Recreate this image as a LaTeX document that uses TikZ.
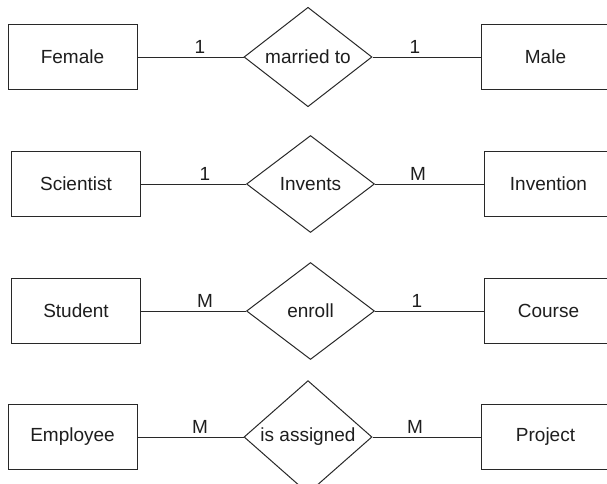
\documentclass[tikz,border=0pt]{standalone}
\usepackage{fontspec}
\setmainfont{Liberation Sans}
\usepackage{tikz}
\usetikzlibrary{math,shapes.geometric}
\definecolor{erline}{RGB}{40,40,40}
\definecolor{ertext}{RGB}{30,30,30}
\tikzset{
  entity/.style={draw=erline, line width=1pt, fill=white, minimum width=129pt, minimum height=65pt, inner sep=0pt, text=ertext, font=\fontsize{19}{22}\selectfont},
  relation/.style={draw=erline, line width=1pt, fill=white, diamond, minimum width=128pt, minimum height=97pt, inner sep=0pt, text=ertext, font=\fontsize{19}{22}\selectfont},
  card/.style={inner sep=0pt, text=ertext, font=\fontsize{19}{22}\selectfont},
  link/.style={draw=erline, line width=1pt}
}

\begin{document}
\begin{tikzpicture}[x=1pt, y=-1pt]
      \tikzmath{\ya = 57; \yb = 184; \yc = 311; \yd = 437; \la = 72.5; \lb = 76; \ra = 545.5; \rb = 548.5;}
      \clip (0,0) rectangle (607,483);
      \node[entity] (female) at (\la,\ya) {Female};
      \node[relation] (married) at (308,\ya) {married to};
      \node[entity] (male) at (\ra,\ya) {Male};
      \draw[link] (female) -- (married) ;
      \draw[link] (married) -- (male) ;
      \node[card] (femalecard) at (200,\ya - 10) {1};
      \node[card] (malecard) at (415,\ya - 10) {1};
      \node[entity] (scientist) at (\lb,\yb) {Scientist};
      \node[relation] (invents) at (310.5,\yb) {Invents};
      \node[entity] (invention) at (\rb,\yb) {Invention};
      \draw[link] (scientist) -- (invents) ;
      \draw[link] (invents) -- (invention) ;
      \node[card] (scientistcard) at (205,\yb - 10) {1};
      \node[card] (inventioncard) at (418,\yb - 10) {M};
      \node[entity] (student) at (\lb,\yc) {Student};
      \node[relation] (enroll) at (310.5,\yc) {enroll};
      \node[entity] (course) at (\rb,\yc) {Course};
      \draw[link] (student) -- (enroll) ;
      \draw[link] (enroll) -- (course) ;
      \node[card] (studentcard) at (205,\yc - 10) {M};
      \node[card] (coursecard) at (417,\yc - 10) {1};
      \node[entity] (employee) at (\la,\yd) {Employee};
      \node[relation] (assigned) at (308,\yd) {is assigned};
      \node[entity] (project) at (\ra,\yd) {Project};
      \draw[link] (employee) -- (assigned) ;
      \draw[link] (assigned) -- (project) ;
      \node[card] (employeecard) at (200,\yd - 10) {M};
      \node[card] (projectcard) at (415,\yd - 10) {M};
    \end{tikzpicture}
\end{document}
